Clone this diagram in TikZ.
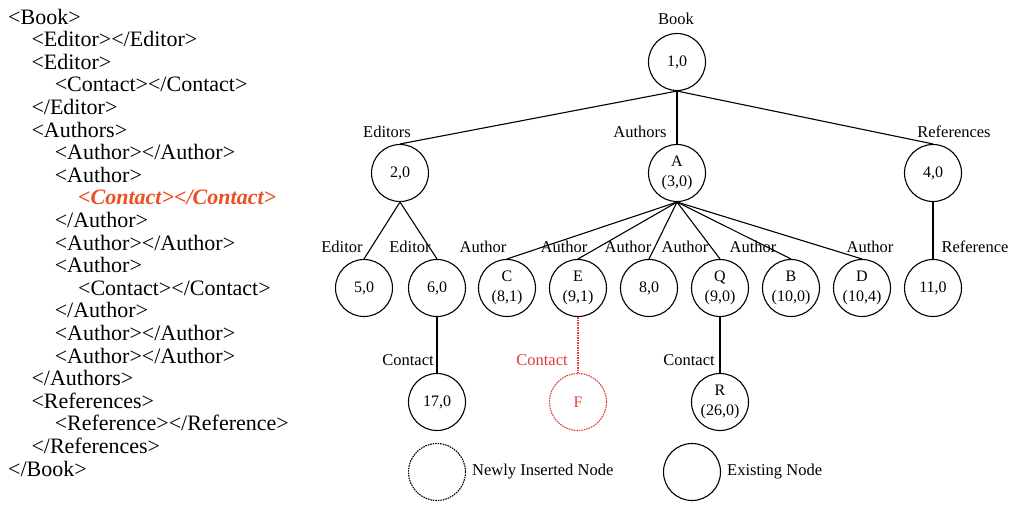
\documentclass[tikz,border=0pt]{standalone}
\usepackage{fontspec}
\setmainfont{Liberation Serif}
\usepackage{xcolor}
\usetikzlibrary{positioning,calc}

\definecolor{insred}{RGB}{238,78,38}
\definecolor{newred}{RGB}{226,58,58}

\tikzset{
    tnode/.style={circle, draw, line width=1.1pt, minimum size=57pt, inner sep=0pt,
        align=center, font=\fontsize{16}{19.5}\selectfont},
    newnode/.style={tnode, draw=newred, text=newred, dash pattern=on 1.6pt off 0.9pt},
    elabel/.style={font=\fontsize{16.5}{19}\selectfont, inner sep=0pt},
    xline/.style={anchor=base west, inner sep=0pt, font=\fontsize{22}{22}\selectfont},
    edge/.style={line width=1.1pt}
}

\begin{document}
\begin{tikzpicture}[x=1pt, y=-1pt]
    \useasboundingbox (0,0) rectangle (1013,504);
    % XML listing
    \foreach \lev/\txt [count=\i from 0] in {
        0/{<Book>}, 1/{<Editor></Editor>}, 1/{<Editor>}, 2/{<Contact></Contact>},
        1/{</Editor>}, 1/{<Authors>}, 2/{<Author></Author>}, 2/{<Author>},
        3/{\textcolor{insred}{\bfseries\itshape <Contact></Contact>}}, 2/{</Author>},
        2/{<Author></Author>}, 2/{<Author>}, 3/{<Contact></Contact>}, 2/{</Author>},
        2/{<Author></Author>}, 2/{<Author></Author>}, 1/{</Authors>}, 1/{<References>},
        2/{<Reference></Reference>}, 1/{</References>}, 0/{</Book>}}
        \node[xline] (x\i) at ({8+23.3*\lev}, {24+22.6*\i}) {\txt};
    % Tree
    \node[tnode] (book) at (677,62) {1,0};
    \node[tnode] (eds) at (400,173) {2,0};
    \node[tnode] (auths) at (677,173) {A\\(3,0)};
    \node[tnode] (refs) at (933,173) {4,0};
    \node[tnode] (ed1) at (364,288) {5,0};
    \node[tnode] (ed2) at (437,288) {6,0};
    \node[tnode] (auC) at (507,288) {C\\(8,1)};
    \node[tnode] (auE) at (578,288) {E\\(9,1)};
    \node[tnode] (au8) at (649,288) {8,0};
    \node[tnode] (auQ) at (720,288) {Q\\(9,0)};
    \node[tnode] (auB) at (791,288) {B\\(10,0)};
    \node[tnode] (auD) at (862,288) {D\\(10,4)};
    \node[tnode] (ref) at (933,288) {11,0};
    \node[tnode] (con1) at (437,402) {17,0};
    \node[newnode] (conF) at (578,402) {F};
    \node[tnode] (conR) at (720,402) {R\\(26,0)};
    % Edges
    \foreach \c in {eds,auths,refs} \draw[edge] (book.south) -- (\c.north);
    \foreach \c in {ed1,ed2} \draw[edge] (eds.south) -- (\c.north);
    \foreach \c in {auC,auE,au8,auQ,auB,auD} \draw[edge] (auths.south) -- (\c.north);
    \draw[edge] (refs.south) -- (ref.north);
    \draw[edge] (ed2.south) -- (con1.north);
    \draw[edge] (auQ.south) -- (conR.north);
    \draw[edge, newred, dash pattern=on 1.6pt off 0.9pt] (auE.south) -- (conF.north);
    % Edge labels
    \node[elabel] (lbook) at (676,19) {Book};
    \node[elabel] (leds) at (387,132) {Editors};
    \node[elabel] (lauths) at (640,132) {Authors};
    \node[elabel] (lrefs) at (954,132) {References};
    \node[elabel] (led1) at (342,247) {Editor};
    \node[elabel] (led2) at (410,247) {Editor};
    \node[elabel] (lauC) at (483,247) {Author};
    \node[elabel] (lauE) at (564,247) {Author};
    \node[elabel] (lau8) at (628,247) {Author};
    \node[elabel] (lauQ) at (685,247) {Author};
    \node[elabel] (lauB) at (753,247) {Author};
    \node[elabel] (lauD) at (870,247) {Author};
    \node[elabel] (lref) at (975,247) {Reference};
    \node[elabel] (lcon1) at (408,360) {Contact};
    \node[elabel, text=newred] (lconF) at (542,360) {Contact};
    \node[elabel] (lconR) at (689,360) {Contact};
    % Legend
    \node[tnode, dash pattern=on 1.6pt off 0.9pt] (legnew) at (437,472) {};
    \node[elabel, anchor=west] (legnewt) at (472,472) {Newly Inserted Node};
    \node[tnode] (legold) at (692,472) {};
    \node[elabel, anchor=west] (legoldt) at (727,472) {Existing Node};
\end{tikzpicture}
\end{document}
